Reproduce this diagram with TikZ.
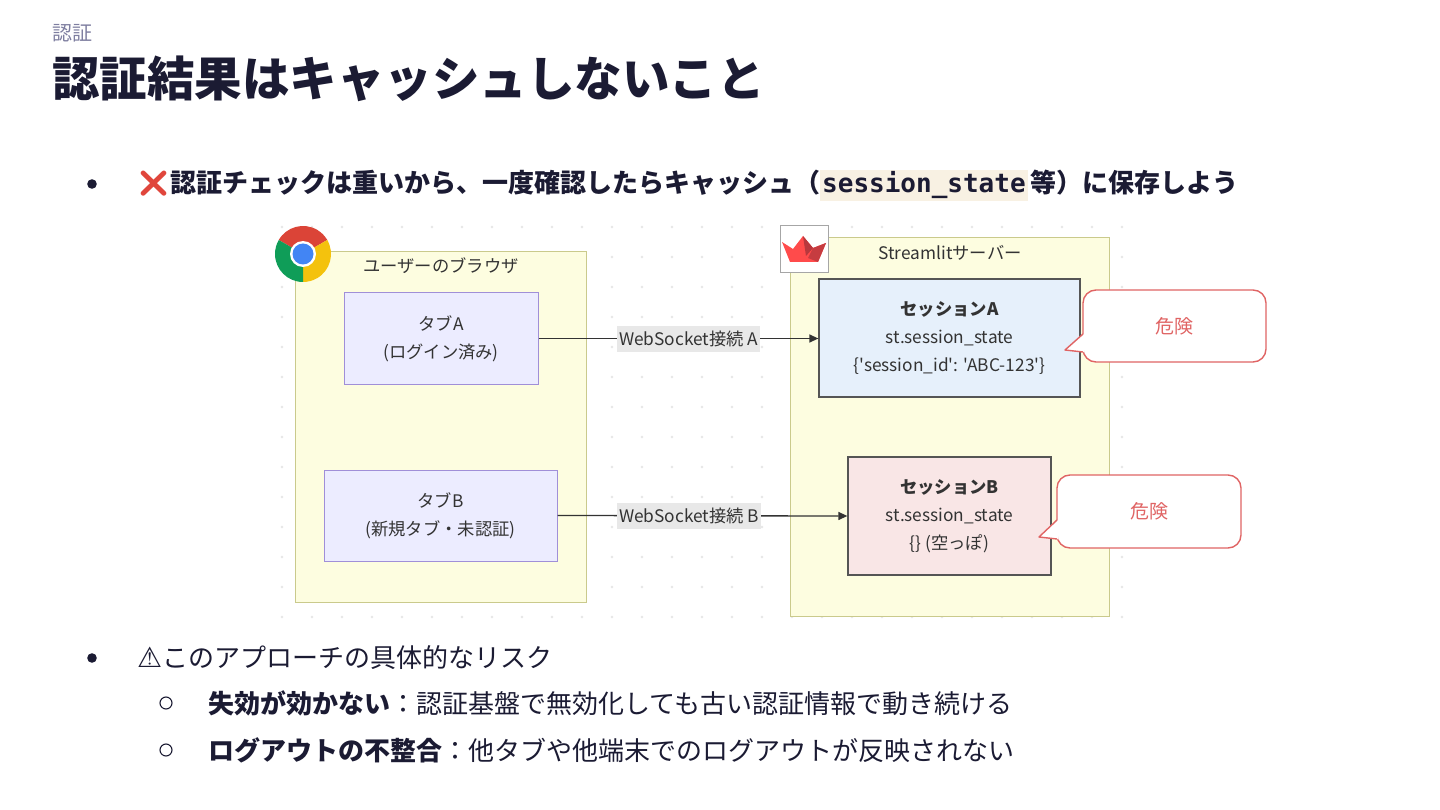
\documentclass[tikz,border=0pt]{standalone}
\usepackage{fontspec}
\setmainfont{Noto Sans CJK JP}
\setmonofont{DejaVu Sans Mono}
\newfontfamily\diagfont{Noto Sans CJK JP}
\newfontfamily\emojifont{Noto Emoji}
\newfontfamily\symfont{DejaVu Sans}
\usetikzlibrary{arrows.meta}
\definecolor{ink}{HTML}{1B1B33}
\definecolor{subhead}{HTML}{7E7EA0}
\definecolor{txt}{HTML}{333333}
\definecolor{clfill}{HTML}{FDFDE0}
\definecolor{clstroke}{HTML}{CACA8C}
\definecolor{tabfill}{HTML}{ECECFF}
\definecolor{tabstroke}{HTML}{A08FD8}
\definecolor{sessstroke}{HTML}{555555}
\definecolor{sessAfill}{HTML}{E6F0FB}
\definecolor{sessBfill}{HTML}{F9E6E6}
\definecolor{arrowc}{HTML}{333333}
\definecolor{labelbg}{HTML}{E8E8E8}
\definecolor{dangerc}{HTML}{E06464}
\definecolor{dotc}{HTML}{E6E6E6}
\definecolor{codebg}{HTML}{F8F1E3}
\definecolor{xred}{HTML}{E0463C}
\definecolor{chred}{HTML}{DB4437}
\definecolor{chyellow}{HTML}{F4C20D}
\definecolor{chgreen}{HTML}{0F9D58}
\definecolor{chblue}{HTML}{4285F4}
\definecolor{stred}{HTML}{FF4B4B}
\definecolor{stdark}{HTML}{B8383D}
\newcommand\setfs[2]{\fontsize{#1}{#2}\selectfont}
\begin{document}
\begin{tikzpicture}[x=1pt,y=-1pt,
  every node/.style={inner sep=0pt},
  cluster/.style={draw=clstroke, fill=clfill, line width=1pt},
  cltitle/.style={text=txt, font=\diagfont\setfs{17.3}{20}},
  tabbox/.style={draw=tabstroke, fill=tabfill, line width=1pt, align=center, text=txt, font=\diagfont\setfs{17.3}{28}},
  sessbox/.style={draw=sessstroke, line width=1.3pt, align=center, text=txt, font=\diagfont\setfs{17.3}{28}},
  conn/.style={draw=arrowc, line width=1.3pt, -{Triangle[length=9pt,width=8pt]}},
  wslabel/.style={fill=labelbg, inner xsep=2pt, minimum height=26pt, text=txt, font=\diagfont\setfs{17.3}{20}},
  callout/.style={draw=dangerc, fill=white, line width=1.4pt, rounded corners=13pt, text=dangerc, font=\diagfont\setfs{19}{20}},
  bullettext/.style={anchor=base west, text=ink, font=\setfs{26}{30}},
]
\useasboundingbox (0,0) rectangle (1440,810);
\fill[white] (0,0) rectangle (1440,810);

% header and title
\node[anchor=base west, text=subhead, font=\setfs{20}{22}] (hdr) at (52,41) {認証};
\node[anchor=base west, text=ink, font=\setfs{47.5}{52}\bfseries] (title) at (52,97) {認証結果はキャッシュしないこと};

% bullet 1
\fill[ink] (92,184) circle (4.8);
\node[bullettext] (b1) at (137,193) {{\color{xred}\emojifont ❌}\bfseries 認証チェックは重いから、一度確認したらキャッシュ（\setlength\fboxsep{2pt}\colorbox{codebg}{\ttfamily\bfseries session\_state}\hspace{3pt}等）に保存しよう};

% dot grid
\foreach \x in {282,312,...,1122}
  \foreach \y in {227,257,...,617}
    \fill[dotc] (\x,\y) circle (1.3);

% clusters
\filldraw[cluster] (295,252) rectangle (586,602);
\filldraw[cluster] (790,238) rectangle (1109,616);
\node[cltitle] (brt) at (441,266) {ユーザーのブラウザ};
\node[cltitle] (svt) at (950,253) {Streamlitサーバー};

% chrome icon
\begin{scope}[shift={(303,254)}]
  \fill[chred] (0,0) -- (210:28) arc (210:330:28) -- cycle;
  \fill[chyellow] (0,0) -- (330:28) arc (330:450:28) -- cycle;
  \fill[chgreen] (0,0) -- (90:28) arc (90:210:28) -- cycle;
  \fill[white] (0,0) circle (13);
  \fill[chblue] (0,0) circle (10.5);
\end{scope}

% streamlit icon
\filldraw[draw=gray!70, fill=white, line width=1pt] (780,226) rectangle (828,273);
\fill[stred] (782,242) -- (793,249) -- (803,236) -- (813,248) -- (826,243) -- (818,262) -- (790,262) -- cycle;
\fill[stdark] (803,236) -- (813,248) -- (806,256) -- cycle;
\fill[stdark!80!stred] (813,248) -- (826,243) -- (818,262) -- (808,258) -- cycle;

% tabs
\node[tabbox, minimum width=194pt, minimum height=91pt] (tabA) at (441,338.5) {タブA\\(ログイン済み)};
\node[tabbox, minimum width=233pt, minimum height=91pt] (tabB) at (440.5,515.5) {タブB\\(新規タブ・未認証)};

% sessions
\node[sessbox, fill=sessAfill, minimum width=261pt, minimum height=118pt] (sessA) at (949.5,338) {{\bfseries セッションA}\\st.session\_state\\\{'session\_id': 'ABC-123'\}};
\node[sessbox, fill=sessBfill, minimum width=203pt, minimum height=118pt] (sessB) at (949.5,516) {{\bfseries セッションB}\\st.session\_state\\\{\} (空っぽ)};

% connectors
\draw[conn] (tabA.east) -- node[wslabel, pos=0.537] (lblA) {WebSocket接続 A} (sessA.west |- tabA.east);
\draw[conn] (tabB.east) -- node[wslabel, pos=0.454] (lblB) {WebSocket接続 B} (sessB.west);

% callouts
\node[callout, minimum width=183pt, minimum height=72pt] (dangerA) at (1174.5,326) {危険};
\fill[white] (1084.6,333.5) -- (1065,350) -- (1084.6,352.3) -- cycle;
\draw[dangerc, line width=1.4pt, line join=round] (1083,334) -- (1065,350) -- (1083,352);
\node[callout, minimum width=184pt, minimum height=73pt] (dangerB) at (1149,511.5) {危険};
\fill[white] (1058.6,519.5) -- (1039,537) -- (1058.6,539.3) -- cycle;
\draw[dangerc, line width=1.4pt, line join=round] (1057,520) -- (1039,537) -- (1057,539);

% bullet 2
\fill[ink] (92,658) circle (4.8);
\node[bullettext] (b2) at (137,667) {{\symfont\setfs{28}{30}⚠}このアプローチの具体的なリスク};

% sub bullets
\draw[ink, line width=1.1pt] (166,703) circle (6);
\node[bullettext] (s1) at (208,713) {{\bfseries 失効が効かない}：認証基盤で無効化しても古い認証情報で動き続ける};
\draw[ink, line width=1.1pt] (166,750) circle (6);
\node[bullettext] (s2) at (208,760) {{\bfseries ログアウトの不整合}：他タブや他端末でのログアウトが反映されない};
\end{tikzpicture}
\end{document}
